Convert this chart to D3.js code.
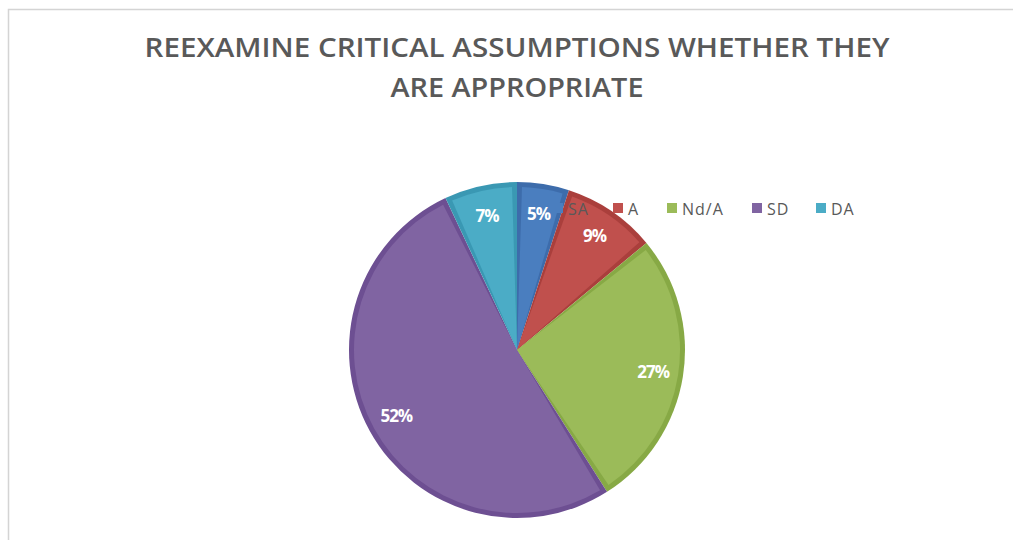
<!DOCTYPE html>
<html>
<head>
<meta charset="utf-8">
<script src="https://cdn.jsdelivr.net/npm/d3@7"></script>
<style>
  html, body { margin: 0; padding: 0; background: #fff; }
  svg { display: block; }
</style>
</head>
<body>
<svg id="chart" width="1013" height="540"></svg>
<script>
// Survey responses
const categories = ["SA", "A", "Nd/A", "SD", "DA"];
const percents = [5, 9, 27, 52, 7];
const fills = ["#4a7ebf", "#c0504d", "#9bbb59", "#8064a2", "#4bacc6"];
const edges = ["#3d6cab", "#aa3f3c", "#87a945", "#6d4f92", "#3a98b3"];
const titleLines = ["REEXAMINE CRITICAL ASSUMPTIONS WHETHER THEY", "ARE APPROPRIATE"];

const svg = d3.select("#chart");
const W = 1013, H = 540;

// chart frame
svg.append("path")
  .attr("d", `M8.5,${H} V9.5 H${W}`)
  .attr("fill", "none")
  .attr("stroke", "#d4d4d4")
  .attr("stroke-width", 1.5);

// title
svg.append("g").selectAll("text")
  .data(titleLines)
  .join("text")
  .attr("x", 517)
  .attr("y", (d, i) => 57 + i * 40)
  .attr("text-anchor", "middle")
  .attr("font-family", "'Open Sans', sans-serif")
  .attr("font-weight", 600)
  .attr("font-size", 27)
  .attr("fill", "#595959")
  .attr("textLength", (d, i) => i === 0 ? 745 : 253)
  .attr("lengthAdjust", "spacingAndGlyphs")
  .text(d => d);

// pie
const cx = 517, cy = 350, r = 168, inset = 5;
const data = categories.map((c, i) => ({ cat: c, value: percents[i], i }));
const pie = d3.pie().sort(null).value(d => d.value);
const arcs = pie(data);

const outerArc = d3.arc().innerRadius(0).outerRadius(r);
const innerArc = d3.arc().innerRadius(0).outerRadius(r - inset)
  .padAngle(2 * inset / r).padRadius(r);
const labelArc = d3.arc().innerRadius(r * 0.82).outerRadius(r * 0.82);

const g = svg.append("g").attr("transform", `translate(${cx},${cy})`);

g.selectAll("path.edge")
  .data(arcs)
  .join("path")
  .attr("class", "edge")
  .attr("d", outerArc)
  .attr("fill", d => edges[d.data.i]);

g.selectAll("path.fill")
  .data(arcs)
  .join("path")
  .attr("class", "fill")
  .attr("d", innerArc)
  .attr("fill", d => fills[d.data.i]);

// legend, drawn over the pie
const legendX = [553, 613, 667, 752, 816];
const legend = svg.append("g").selectAll("g")
  .data(data)
  .join("g")
  .attr("transform", d => `translate(${legendX[d.i]},203)`);
legend.append("rect")
  .attr("width", 10).attr("height", 10)
  .attr("fill", d => fills[d.i]);
legend.append("text")
  .attr("x", 15).attr("y", 11.5)
  .attr("font-family", "'Open Sans', sans-serif")
  .attr("font-size", 16)
  .attr("letter-spacing", "1")
  .attr("fill", "#595959")
  .text(d => d.cat);

// value labels
g.selectAll("text.val")
  .data(arcs)
  .join("text")
  .attr("class", "val")
  .attr("transform", d => `translate(${labelArc.centroid(d)})`)
  .attr("text-anchor", "middle")
  .attr("dy", "0.35em")
  .attr("font-family", "'Open Sans', sans-serif")
  .attr("font-weight", "bold")
  .attr("font-size", 17)
  .attr("letter-spacing", "-1")
  .attr("fill", "#ffffff")
  .text(d => d.data.value + "%");
</script>
</body>
</html>
